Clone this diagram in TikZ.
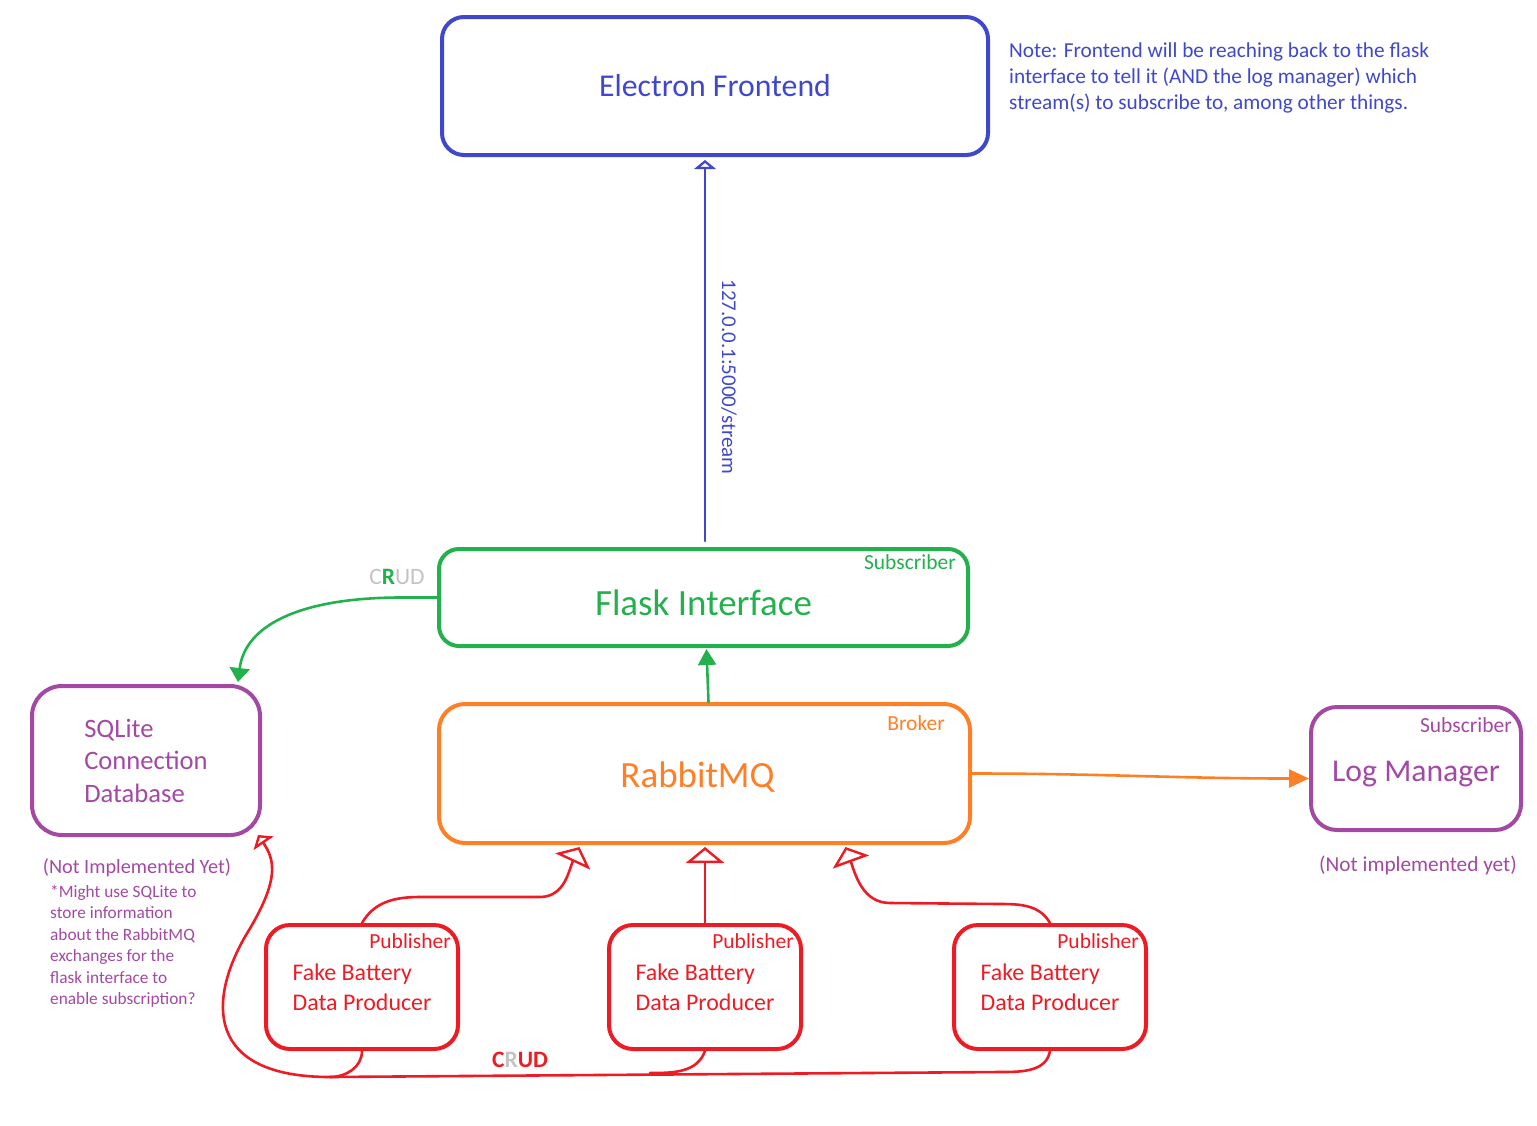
\documentclass[tikz,border=0pt]{standalone}
\usepackage{fontspec}
\setmainfont{Carlito}
\usepackage{tikz}
\usetikzlibrary{positioning, arrows.meta, calc}

\definecolor{paintblue}{HTML}{3F48CC}
\definecolor{paintgreen}{HTML}{22B14C}
\definecolor{paintorange}{HTML}{FF7F27}
\definecolor{paintpurple}{HTML}{A349A4}
\definecolor{paintred}{HTML}{ED1C24}
\definecolor{paintgrey}{HTML}{C3C3C3}

\newcommand{\fsz}[2]{\fontsize{#1}{#2}\selectfont}

\tikzset{
  box/.style={draw, line width=4pt, rounded corners=#1, inner sep=0pt, align=left},
  box/.default=24pt,
  tag/.style={inner sep=0pt, anchor=east, font=\fsz{21.5}{24}},
  wire/.style={line width=2.6pt, line cap=round, line join=round},
  opentip/.style={-{Triangle[open, length=#1, width=2.4*#1, line width=2.4pt]}},
  filltip/.style={-{Triangle[length=16pt, width=18pt]}},
}

\begin{document}
\begin{tikzpicture}[x=1pt, y=-1pt]
\useasboundingbox (0,0) rectangle (1537,1125);

% boxes
\node[box=22pt, paintblue, minimum width=546, minimum height=138, font=\fsz{31.8}{36}]
  (frontend) at (715,86) {Electron Frontend};
\node[box=20pt, paintgreen, minimum width=529, minimum height=97, font=\fsz{37}{42},
  text height=38pt, text depth=2pt] (flask) at (703.5,597.5) {Flask Interface};
\node[box=26pt, paintorange, minimum width=531, minimum height=139, font=\fsz{37}{42},
  text height=30pt, text depth=2pt] (rabbit) at (704.5,773.5) {RabbitMQ\hspace*{14pt}};
\node[box=30pt, paintpurple, minimum width=228, minimum height=149, font=\fsz{26.6}{32.5}]
  (sqlite) at (146,760.5) {SQLite\\Connection\\Database};
\node[box=26pt, paintpurple, minimum width=210, minimum height=123, font=\fsz{31.7}{36},
  text height=28pt, text depth=2pt] (logmgr) at (1416,768.5) {Log Manager};
\node[box, paintred, minimum width=192, minimum height=124, font=\fsz{23.9}{30}]
  (pub1) at (362,987) {Fake Battery\\Data Producer};
\node[box, paintred, minimum width=192, minimum height=124, font=\fsz{23.9}{30}]
  (pub2) at (705,987) {Fake Battery\\Data Producer};
\node[box, paintred, minimum width=192, minimum height=124, font=\fsz{23.9}{30}]
  (pub3) at (1050,987) {Fake Battery\\Data Producer};

% role tags
\node[tag, paintgreen] (flasktag) at ([shift={(-14,15)}]flask.north east) {Subscriber};
\node[tag, paintorange] (rabbittag) at ([shift={(-27,21)}]rabbit.north east) {Broker};
\node[tag, paintpurple] (logtag) at ([shift={(-11,20)}]logmgr.north east) {Subscriber};
\node[tag, paintred] (pub1tag) at ([shift={(-9,18)}]pub1.north east) {Publisher};
\node[tag, paintred] (pub2tag) at ([shift={(-9,18)}]pub2.north east) {Publisher};
\node[tag, paintred] (pub3tag) at ([shift={(-9,18)}]pub3.north east) {Publisher};

% notes
\node[paintblue, inner sep=0pt, anchor=north west, align=left, font=\fsz{21.3}{26}]
  (note) at (1009,43) {Note: Frontend will be reaching back to the flask\\
  interface to tell it (AND the log manager) which\\
  stream(s) to subscribe to, among other things.};
\node[paintpurple, inner sep=0pt, font=\fsz{20.3}{24}] (sqlitenote) at (137,868) {(Not Implemented Yet)};
\node[paintpurple, inner sep=0pt, anchor=north west, align=left, font=\fsz{17.3}{21.4}]
  (sqliteidea) at (50,885) {*Might use SQLite to\\store information\\about the RabbitMQ\\
  exchanges for the\\flask interface to\\enable subscription?};
\node[paintpurple, inner sep=0pt, font=\fsz{21.3}{24}] (lognote) at (1418,865) {(Not implemented yet)};

% stream to the frontend
\draw[wire, paintblue, opentip=9pt] ([xshift=1.5pt, yshift=6pt]flask.north) -- ([xshift=1.5pt, yshift=-3pt]flask.north |- frontend.south);
\node[paintblue, rotate=-90, inner sep=0pt, font=\fsz{21}{24}] (streamlbl) at (729,377) {127.0.0.1:5000/stream};

% rabbit -> flask, rabbit -> log manager
\draw[wire, paintgreen, filltip] ([xshift=4pt]rabbit.north) -- ([xshift=3pt, yshift=-1pt]flask.south);
\draw[wire, paintorange, -{Triangle[length=20pt, width=18pt]}] (rabbit.east) to[out=0, in=180] ([yshift=-10pt]logmgr.west);

% flask reads the database
\draw[wire, paintgreen, -{Triangle[length=14pt, width=20pt]}] (flask.west) -- ++(-38,0)
  .. controls (300,598) and (245,625) .. ([xshift=92pt, yshift=2pt]sqlite.north);
\node[inner sep=0pt, font=\fsz{23.5}{26}] (crudtop) at (397,577)
  {\textcolor{paintgrey}{C}\textcolor{paintgreen}{\bfseries R}\textcolor{paintgrey}{UD}};

% publishers -> broker
\draw[wire, paintred, opentip=16pt] (pub1.north) to[out=60, in=180] (420,897) -- (540,897)
  to[out=0, in=-115] ([xshift=-125pt, yshift=-2pt]rabbit.south);
\draw[wire, paintred, opentip=16pt] (pub2.north) -- ([yshift=-2pt]pub2.north |- rabbit.south);
\draw[wire, paintred, opentip=16pt] (pub3.north) to[out=120, in=0] (1000,904) -- (890,903)
  to[out=180, in=-70] ([xshift=141pt, yshift=-2pt]rabbit.south);

% publishers write the database
\coordinate (busR) at (1000,1072);
\coordinate (busL) at (330,1077);
\draw[wire, paintred, opentip=10pt] (pub3.south) to[out=-100, in=0] (busR) -- (busL)
  .. controls (205,1077) and (208,1000) .. (246,935)
  .. controls (280,880) and (275,860) .. ([xshift=-4pt, yshift=2pt]sqlite.south east);
\draw[wire, paintred] (pub1.south) to[out=-90, in=0] (busL);
\draw[wire, paintred] (pub2.south) to[out=-110, in=0] (650,1073);
\node[inner sep=0pt, font=\fsz{23.5}{26}\bfseries] (crudbot) at (520,1060)
  {\textcolor{paintred}{C}\textcolor{paintgrey}{R}\textcolor{paintred}{UD}};
\end{tikzpicture}
\end{document}
